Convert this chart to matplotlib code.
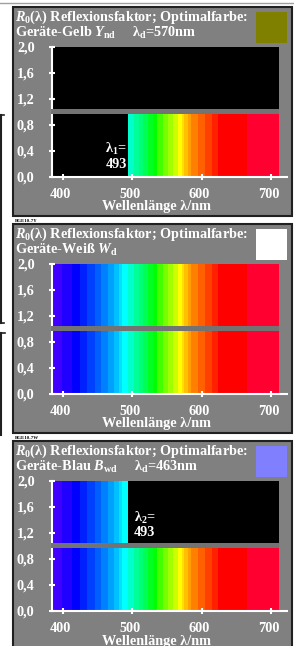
import matplotlib
matplotlib.use('Agg')
import matplotlib.pyplot as plt
from matplotlib.patches import Rectangle
from matplotlib.lines import Line2D
from matplotlib.transforms import ScaledTranslation

# Daten: Spektralstreifen (Grenzen in nm) und Farben
stripe_edges = [384, 398, 413, 424, 435, 446, 455, 465, 474, 480, 485, 494,
                502, 509, 515, 522, 530, 536, 544, 551, 558, 565, 571, 575,
                580, 585, 595, 605, 615, 624, 665, 711]
stripe_colors = ['#4000ff', '#2000ff', '#0000ff', '#0020ff', '#0040ff',
                 '#0060ff', '#0080ff', '#00a0ff', '#00c0ff', '#00e0ff',
                 '#00ffff', '#00ffcc', '#00ff99', '#00ff77', '#00ff55',
                 '#00ff22', '#00ff00', '#44ff00', '#77ff00', '#a0ff00',
                 '#ccff00', '#ffff00', '#ffe000', '#ffc000', '#ffa000',
                 '#ff8000', '#ff6000', '#ff4000', '#ff2000', '#ff0000',
                 '#ff0030']
cut_nm = 494
cut_label = '493'
lower_range = (0.0, 0.96)
upper_range = (1.05, 2.0)

y_ticks = [0.0, 0.4, 0.8, 1.2, 1.6, 2.0]
y_labels = ['0,0', '0,4', '0,8', '1,2', '1,6', '2,0']
x_ticks = [400, 500, 600, 700]
x_labels = ['400', '500', '600', '700']

panel_names = ['Geräte-Gelb', 'Geräte-Weiß', 'Geräte-Blau']
panel_symbols = ['Y', 'W', 'B']
panel_subs = ['nd', 'd', 'wd']
panel_lambda_d = ['570', None, '463']
panel_swatch = ['#808000', '#ffffff', '#8080ff']
# was im oberen / unteren Streifen schwarz ist
upper_black = ['all', 'none', 'above']
lower_black = ['below', 'none', 'none']
panel_codes = ['BGE10-7Y', 'BGE10-7W', None]

plt.rcParams['font.family'] = ['Liberation Serif', 'DejaVu Serif']
plt.rcParams['font.weight'] = 'bold'
plt.rcParams['mathtext.fontset'] = 'custom'
plt.rcParams['mathtext.rm'] = 'Liberation Serif:bold'
plt.rcParams['mathtext.it'] = 'Liberation Serif:italic:bold'
plt.rcParams['mathtext.bf'] = 'Liberation Serif:bold'

W, H = 294, 646
FS = 10.3
fig = plt.figure(figsize=(W / 100, H / 100), dpi=100)
fig.patch.set_facecolor('white')


def fx(x):
    return x / W


def fy(y):
    return 1 - y / H


def draw_row(ax, y0, y1, mode):
    for i, col in enumerate(stripe_colors):
        e0, e1 = stripe_edges[i], stripe_edges[i + 1]
        black = (mode == 'all' or (mode == 'below' and e1 <= cut_nm)
                 or (mode == 'above' and e0 >= cut_nm))
        ax.bar(e0, y1 - y0, width=e1 - e0, bottom=y0, align='edge',
               color='black' if black else col, linewidth=0, zorder=1)


# Randstücke links / oben
fig.add_artist(Line2D([0, 1], [fy(3), fy(3)], color='#a0a0a0', lw=1, zorder=-5))
fig.add_artist(Line2D([fx(1), fx(1)], [fy(115), fy(323)], color='#202020', lw=1.5, zorder=-5))
fig.add_artist(Line2D([0, fx(4)], [fy(115), fy(115)], color='#202020', lw=1.2, zorder=-5))
fig.add_artist(Line2D([0, fx(4)], [fy(323), fy(323)], color='#202020', lw=1.2, zorder=-5))
fig.add_artist(Line2D([fx(1), fx(1)], [fy(333), fy(435)], color='#202020', lw=1.5, zorder=-5))
fig.add_artist(Line2D([0, fx(5)], [fy(333), fy(333)], color='#202020', lw=1.2, zorder=-5))

tops = [7, 224, 441]
for k, top in enumerate(tops):
    # Panel-Hintergrund
    fig.add_artist(Rectangle((fx(13), fy(top + 209)), fx(292) - fx(13), 209 / H,
                             facecolor='#808080', edgecolor='#202020', lw=1.5,
                             transform=fig.transFigure, zorder=-4))
    # Farbfeld
    fig.add_artist(Rectangle((fx(256), fy(top + 36)), 31 / W, 31 / H,
                             facecolor=panel_swatch[k], edgecolor='none',
                             transform=fig.transFigure, zorder=-3))
    fig.text(fx(15), fy(top + 14), r'$\mathit{R}_{0}$(λ) Reflexionsfaktor; Optimalfarbe:',
             color='white', fontsize=FS, fontweight='bold', va='baseline', ha='left')
    line2 = panel_names[k] + r' $\mathit{' + panel_symbols[k] + r'}_{\mathrm{' + panel_subs[k] + '}}$'
    if panel_lambda_d[k]:
        line2 += '     λ$_{\\mathrm{d}}$=' + panel_lambda_d[k] + 'nm'
    fig.text(fx(15), fy(top + 30), line2, color='white', fontsize=FS,
             fontweight='bold', va='baseline', ha='left')

    ax = fig.add_axes([fx(52), fy(top + 169.5), (287 - 52) / W, 129.5 / H])
    ax.set_facecolor('none')
    ax.set_xlim(384, 722.8)
    ax.set_ylim(0, 2.0)
    for s in ['top', 'right']:
        ax.spines[s].set_visible(False)
    for s in ['left', 'bottom']:
        ax.spines[s].set_color('white')
        ax.spines[s].set_linewidth(1.5)
        ax.spines[s].set_zorder(2.5)

    draw_row(ax, upper_range[0], upper_range[1], upper_black[k])
    draw_row(ax, lower_range[0], lower_range[1], lower_black[k])
    ax.bar(382.5, upper_range[0] - lower_range[1], width=stripe_edges[-1] - 382.5,
           bottom=lower_range[1], align='edge', color='#737373', linewidth=0,
           zorder=3, clip_on=False)

    ax.set_yticks(y_ticks)
    ax.set_yticklabels(y_labels)
    ax.set_xticks(x_ticks)
    ax.set_xticklabels(x_labels)
    ax.tick_params(axis='both', colors='white', direction='inout', length=4,
                   width=1.5, labelsize=FS)
    ax.tick_params(axis='y', pad=10.5)
    ax.tick_params(axis='x', pad=6)
    for lab in ax.get_xticklabels():
        lab.set_transform(lab.get_transform() + ScaledTranslation(-0.025, 0, fig.dpi_scale_trans))
        lab.set_fontweight('bold')
    for lab in ax.get_yticklabels():
        lab.set_fontweight('bold')

    if k == 0:
        ax.text(cut_nm - 2, 0.42, 'λ$_{1}$=', color='white', fontsize=FS,
                fontweight='bold', ha='right', va='center')
        ax.text(cut_nm - 2, 0.19, cut_label, color='white', fontsize=FS,
                fontweight='bold', ha='right', va='center')
    if k == 2:
        ax.text(cut_nm + 8, 1.43, 'λ$_{2}$=', color='white', fontsize=FS,
                fontweight='bold', ha='left', va='center')
        ax.text(cut_nm + 8, 1.21, cut_label, color='white', fontsize=FS,
                fontweight='bold', ha='left', va='center')

    fig.text(fx(156), fy(top + 200), 'Wellenlänge λ/nm', color='white', fontsize=FS,
             fontweight='bold', ha='center', va='center')

    if panel_codes[k]:
        fig.text(fx(15), fy(top + 214), panel_codes[k], color='black', fontsize=3.5,
                 fontweight='bold', ha='left', va='center')

fig.savefig('out.png', dpi=100)
